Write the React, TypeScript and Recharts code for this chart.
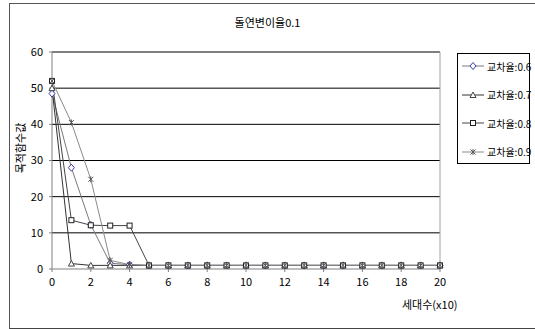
import { LineChart, Line, XAxis, YAxis, CartesianGrid, ReferenceLine } from 'recharts'

const generations = [0, 1, 2, 3, 4, 5, 6, 7, 8, 9, 10, 11, 12, 13, 14, 15, 16, 17, 18, 19, 20]
const rate06 = [48.5, 28, 12.2, 1.6, 1.2, 1, 1, 1, 1, 1, 1, 1, 1, 1, 1, 1, 1, 1, 1, 1, 1]
const rate07 = [50, 1.5, 1, 1, 1, 1, 1, 1, 1, 1, 1, 1, 1, 1, 1, 1, 1, 1, 1, 1, 1]
const rate08 = [52, 13.5, 12.1, 12, 12, 1, 1, 1, 1, 1, 1, 1, 1, 1, 1, 1, 1, 1, 1, 1, 1]
const rate09 = [52, 40.5, 24.8, 2.4, 1.2, 1, 1, 1, 1, 1, 1, 1, 1, 1, 1, 1, 1, 1, 1, 1, 1]
const xTicks = [0, 2, 4, 6, 8, 10, 12, 14, 16, 18, 20]
const yTicks = [0, 10, 20, 30, 40, 50, 60]

const FONT = '"Noto Sans CJK KR", sans-serif'

type MarkerKind = 'diamond' | 'triangle' | 'square' | 'star'

const series: { key: string; name: string; values: number[]; line: string; marker: string; kind: MarkerKind }[] = [
  { key: 'r06', name: '교차율:0.6', values: rate06, line: '#7a7a7a', marker: '#3c3ca8', kind: 'diamond' },
  { key: 'r07', name: '교차율:0.7', values: rate07, line: '#333333', marker: '#444444', kind: 'triangle' },
  { key: 'r08', name: '교차율:0.8', values: rate08, line: '#444444', marker: '#222222', kind: 'square' },
  { key: 'r09', name: '교차율:0.9', values: rate09, line: '#8a8a8a', marker: '#555555', kind: 'star' },
]

const data = generations.map((g, i) => {
  const row: any = { gen: g }
  series.forEach((s) => {
    row[s.key] = s.values[i]
  })
  return row
})

function Marker({ kind, cx, cy, color }: { kind: MarkerKind; cx: number; cy: number; color: string }) {
  if (kind === 'diamond') {
    return <polygon points={`${cx},${cy - 3.5} ${cx + 3},${cy} ${cx},${cy + 3.5} ${cx - 3},${cy}`} fill="#fff" stroke={color} strokeWidth={1} />
  }
  if (kind === 'triangle') {
    return <polygon points={`${cx},${cy - 3} ${cx + 3},${cy + 2.5} ${cx - 3},${cy + 2.5}`} fill="#fff" stroke={color} strokeWidth={1} />
  }
  if (kind === 'square') {
    return <rect x={cx - 2.5} y={cy - 2.5} width={5} height={5} fill="#fff" stroke={color} strokeWidth={1} />
  }
  return (
    <g stroke={color} strokeWidth={1}>
      <line x1={cx - 2.5} y1={cy - 2.5} x2={cx + 2.5} y2={cy + 2.5} />
      <line x1={cx - 2.5} y1={cy + 2.5} x2={cx + 2.5} y2={cy - 2.5} />
      <line x1={cx} y1={cy - 3} x2={cx} y2={cy + 3} />
    </g>
  )
}

function LegendBox() {
  return (
    <div
      style={{
        position: 'absolute',
        left: 457,
        top: 53,
        width: 73,
        height: 111,
        border: '1px solid #000',
        boxSizing: 'border-box',
        background: '#fff',
      }}
    >
      {series.map((s, i) => (
        <div key={s.key} style={{ position: 'absolute', left: 4, top: 5 + i * 28.5, height: 14, display: 'flex', alignItems: 'center' }}>
          <svg width={22} height={14}>
            <line x1={0} y1={7} x2={22} y2={7} stroke={s.line} strokeWidth={1} />
            <Marker kind={s.kind} cx={11} cy={7} color={s.marker} />
          </svg>
          <span style={{ fontFamily: FONT, fontSize: 10, marginLeft: 3, color: '#000', whiteSpace: 'nowrap' }}>{s.name}</span>
        </div>
      ))}
    </div>
  )
}

export default function App() {
  return (
    <div style={{ position: 'absolute', left: 0, top: 0, width: 535, height: 329, background: '#fff', overflow: 'hidden' }}>
      {/* frame around the chart area */}
      <div
        style={{
          position: 'absolute',
          left: 9,
          top: 3,
          width: 540,
          height: 324,
          borderLeft: '1px solid #555',
          borderTop: '1px solid #555',
          borderBottom: '2px solid #444',
        }}
      />
      <div style={{ position: 'absolute', left: 0, width: 535, top: 14, textAlign: 'center', fontFamily: FONT, fontSize: 11, color: '#000' }}>
        돌연변이율0.1
      </div>
      <div
        style={{
          position: 'absolute',
          left: 20,
          top: 148,
          transform: 'translate(-50%, -50%) rotate(-90deg)',
          fontFamily: FONT,
          fontSize: 11,
          color: '#000',
          whiteSpace: 'nowrap',
        }}
      >
        목적함수값
      </div>
      <div style={{ position: 'absolute', left: 402, top: 296, fontFamily: FONT, fontSize: 11, color: '#000', whiteSpace: 'nowrap' }}>
        세대수(x10)
      </div>
      <div style={{ position: 'absolute', left: 0, top: 0 }}>
        <LineChart width={535} height={329} data={data} margin={{ top: 52, right: 95, bottom: 30, left: 0 }}>
          <CartesianGrid horizontal vertical={false} stroke="#000" horizontalValues={[10, 20, 30, 40, 50, 60]} />
          <XAxis
            dataKey="gen"
            type="number"
            domain={[0, 20]}
            ticks={xTicks}
            height={30}
            stroke="#808080"
            tickSize={3}
            tick={{ fill: '#000', fontSize: 11, fontFamily: FONT }}
            tickMargin={6}
          />
          <YAxis
            type="number"
            domain={[0, 60]}
            ticks={yTicks}
            width={52}
            stroke="#808080"
            tickSize={3}
            tickMargin={6}
            tick={{ fill: '#000', fontSize: 11, fontFamily: FONT }}
          />
          <ReferenceLine x={20} stroke="#a0a0a0" />
          {series.map((s) => (
            <Line
              key={s.key}
              dataKey={s.key}
              name={s.name}
              type="linear"
              stroke={s.line}
              strokeWidth={1}
              isAnimationActive={false}
              dot={(p: any) => <Marker key={`${s.key}-${p.index}`} kind={s.kind} cx={p.cx} cy={p.cy} color={s.marker} />}
              activeDot={false}
            />
          ))}
        </LineChart>
      </div>
      <LegendBox />
    </div>
  )
}
